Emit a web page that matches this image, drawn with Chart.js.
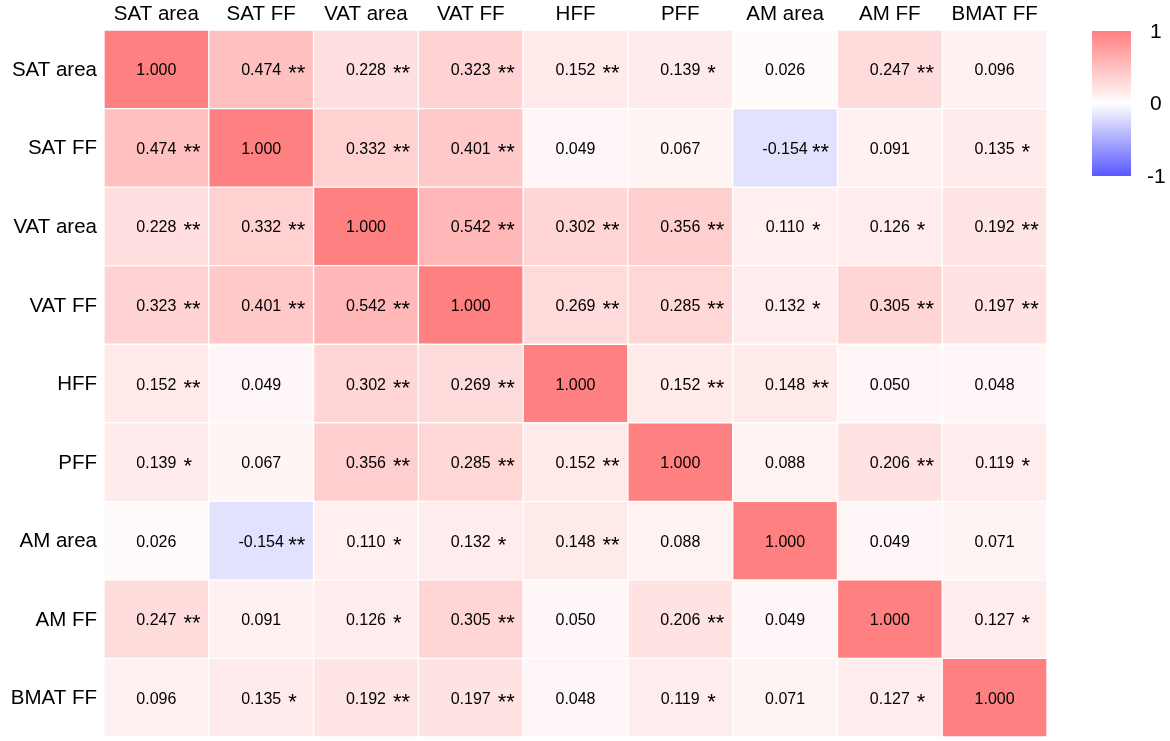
<!DOCTYPE html>
<html>
<head>
<meta charset="utf-8">
<script src="https://cdn.jsdelivr.net/npm/chart.js@4.4.1/dist/chart.umd.min.js"></script>
<style>
  html, body { margin: 0; padding: 0; background: #fff; overflow: hidden; }
  #wrap { width: 1170px; height: 741px; }
</style>
</head>
<body>
<div id="wrap"><canvas id="heat"></canvas></div>
<script>
// correlation matrix, rows/cols in the same order
const variables = ["SAT area", "SAT FF", "VAT area", "VAT FF", "HFF", "PFF", "AM area", "AM FF", "BMAT FF"];
const corrValues = [
    [1.000, 0.474, 0.228, 0.323, 0.152, 0.139, 0.026, 0.247, 0.096],
    [0.474, 1.000, 0.332, 0.401, 0.049, 0.067, -0.154, 0.091, 0.135],
    [0.228, 0.332, 1.000, 0.542, 0.302, 0.356, 0.110, 0.126, 0.192],
    [0.323, 0.401, 0.542, 1.000, 0.269, 0.285, 0.132, 0.305, 0.197],
    [0.152, 0.049, 0.302, 0.269, 1.000, 0.152, 0.148, 0.050, 0.048],
    [0.139, 0.067, 0.356, 0.285, 0.152, 1.000, 0.088, 0.206, 0.119],
    [0.026, -0.154, 0.110, 0.132, 0.148, 0.088, 1.000, 0.049, 0.071],
    [0.247, 0.091, 0.126, 0.305, 0.050, 0.206, 0.049, 1.000, 0.127],
    [0.096, 0.135, 0.192, 0.197, 0.048, 0.119, 0.071, 0.127, 1.000]
];
const sigStars = [
    ["", "**", "**", "**", "**", "*", "", "**", ""],
    ["**", "", "**", "**", "", "", "**", "", "*"],
    ["**", "**", "", "**", "**", "**", "*", "*", "**"],
    ["**", "**", "**", "", "**", "**", "*", "**", "**"],
    ["**", "", "**", "**", "", "**", "**", "", ""],
    ["*", "", "**", "**", "**", "", "", "**", "*"],
    ["", "**", "*", "*", "**", "", "", "", ""],
    ["**", "", "*", "**", "", "**", "", "", "*"],
    ["", "*", "**", "**", "", "*", "", "*", ""]
];
const legendTicks = [1, 0, -1];

const FONT = "'Liberation Sans', Arial, sans-serif";
const HIGH = [255, 128, 128];
const LOW = [88, 88, 255];

function cellColour(v) {
    const end = v >= 0 ? HIGH : LOW;
    const t = Math.pow(Math.min(1, Math.abs(v)), 0.93);
    const c = end.map(e => Math.round(255 + (e - 255) * t));
    return 'rgb(' + c.join(',') + ')';
}

// each row is one dataset of floating bars spanning [r, r+1]
const datasets = variables.map((rowName, r) => ({
    label: rowName,
    data: variables.map(() => [r, r + 1]),
    backgroundColor: corrValues[r].map(cellColour),
    borderColor: '#ffffff',
    borderWidth: 1,
    borderSkipped: false,
    barPercentage: 1,
    categoryPercentage: 1,
    grouped: false
}));

const cellText = {
    id: 'cellText',
    afterDatasetsDraw(chart) {
        const ctx = chart.ctx;
        const xs = chart.scales.x, ys = chart.scales.y;
        ctx.save();
        ctx.fillStyle = '#000';
        ctx.textBaseline = 'alphabetic';
        for (let r = 0; r < variables.length; r++) {
            for (let c = 0; c < variables.length; c++) {
                const x = xs.getPixelForValue(c);
                const y = ys.getPixelForValue(r + 0.5);
                ctx.font = '16px ' + FONT;
                ctx.textAlign = 'center';
                ctx.fillText(corrValues[r][c].toFixed(3), x, y + 6);
                if (sigStars[r][c]) {
                    ctx.font = '22px ' + FONT;
                    ctx.textAlign = 'left';
                    ctx.fillText(sigStars[r][c], x + 27, y + 11);
                }
            }
        }
        ctx.restore();
    }
};

const colourBar = {
    id: 'colourBar',
    afterDraw(chart) {
        const ctx = chart.ctx;
        const left = 1092, right = 1131, top = 31, bottom = 176;
        const g = ctx.createLinearGradient(0, top, 0, bottom);
        g.addColorStop(0, cellColour(1));
        g.addColorStop(0.5, '#ffffff');
        g.addColorStop(1, cellColour(-1));
        ctx.save();
        ctx.fillStyle = g;
        ctx.fillRect(left, top, right - left, bottom - top);
        ctx.fillStyle = '#000';
        ctx.font = '21px ' + FONT;
        ctx.textAlign = 'left';
        ctx.textBaseline = 'middle';
        legendTicks.forEach(v => {
            const y = top + (1 - v) / 2 * (bottom - top) + 1;
            ctx.fillText(String(v), v < 0 ? 1147 : 1150, y);
        });
        ctx.restore();
    }
};

new Chart(document.getElementById('heat'), {
    type: 'bar',
    data: {
        labels: variables,
        datasets: datasets
    },
    options: {
        responsive: true,
        maintainAspectRatio: false,
        animation: false,
        layout: { padding: { left: 0, right: 123, top: 0, bottom: 4 } },
        plugins: {
            legend: { display: false },
            tooltip: { enabled: false }
        },
        scales: {
            x: {
                type: 'category',
                position: 'top',
                offset: true,
                grid: { display: false, drawTicks: false },
                border: { display: false },
                ticks: { color: '#000', font: { size: 20.5, family: FONT }, padding: 3, maxRotation: 0, autoSkip: false },
                afterFit(scale) {
                    scale.height = 30;
                    scale.paddingLeft = 0;
                    scale.paddingRight = 0;
                }
            },
            y: {
                type: 'linear',
                display: false,
                min: 0,
                max: 9,
                reverse: true
            },
            yLab: {
                type: 'category',
                labels: variables,
                position: 'left',
                offset: true,
                grid: { display: false, drawTicks: false },
                border: { display: false },
                ticks: { color: '#000', font: { size: 20.5, family: FONT }, padding: 7, autoSkip: false, labelOffset: 1 },
                afterFit(scale) {
                    scale.width = 104;
                    scale.paddingTop = 0;
                    scale.paddingBottom = 0;
                }
            }
        }
    },
    plugins: [cellText, colourBar]
});
</script>
</body>
</html>
